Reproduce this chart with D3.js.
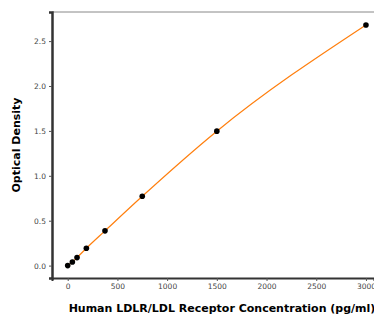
<!DOCTYPE html>
<html>
<head>
<meta charset="utf-8">
<script src="https://cdn.jsdelivr.net/npm/d3@7"></script>
<style>
  body { margin: 0; background: #fff; }
  svg { display: block; font-family: "DejaVu Sans", sans-serif; }
</style>
</head>
<body>
<div id="chart"></div>
<script>
/* DATA */
const concentration = [0, 46.875, 93.75, 187.5, 375, 750, 1500, 3000];
const density = [0.0, 0.04, 0.089, 0.193, 0.387, 0.772, 1.497, 2.68];
const xTicks = [0, 500, 1000, 1500, 2000, 2500, 3000];
const yTicks = [0.0, 0.5, 1.0, 1.5, 2.0, 2.5];

const W = 374, H = 315,
  margin = {top: 12, right: 0, bottom: 37, left: 52};

const svg = d3.select("#chart").append("svg")
  .attr("width", W).attr("height", H);

// scales
const x = d3.scaleLinear().domain([-158, 3081]).range([margin.left, W]);
const y = d3.scaleLinear().domain([-0.138, 2.824]).range([H - margin.bottom, margin.top]);

// top spine (thin, gray)
svg.append("line")
  .attr("x1", margin.left).attr("x2", W)
  .attr("y1", margin.top).attr("y2", margin.top)
  .attr("stroke", "#888").attr("stroke-width", 1);

// axes
const xAxis = svg.append("g")
  .attr("transform", `translate(0,${H - margin.bottom})`)
  .call(d3.axisBottom(x).tickValues(xTicks).tickSize(3).tickPadding(3).tickFormat(d3.format("d")));

const yAxis = svg.append("g")
  .attr("transform", `translate(${margin.left},0)`)
  .call(d3.axisLeft(y).tickValues(yTicks).tickSize(3).tickPadding(3).tickFormat(d3.format(".1f")));

[xAxis, yAxis].forEach(g => {
  g.select(".domain").attr("stroke", "#333").attr("stroke-width", 2);
  g.selectAll(".tick line").attr("stroke", "#555");
  g.selectAll(".tick text").attr("fill", "#444").attr("font-size", 7.5)
    .attr("font-family", "DejaVu Sans");
});
yAxis.select(".domain").attr("stroke-width", 2.5);

// fitted curve
const line = d3.line()
  .x((d, i) => x(concentration[i]))
  .y(d => y(d))
  .curve(d3.curveMonotoneX);

svg.append("path")
  .datum(density)
  .attr("d", line)
  .attr("fill", "none")
  .attr("stroke", "#ff7f0e")
  .attr("stroke-width", 1.2);

// points
svg.selectAll("circle.pt")
  .data(density)
  .join("circle")
  .attr("class", "pt")
  .attr("cx", (d, i) => x(concentration[i]))
  .attr("cy", d => y(d))
  .attr("r", 2.8)
  .attr("fill", "#000");

// labels
svg.append("text")
  .attr("transform", `translate(20,145) rotate(-90)`)
  .attr("text-anchor", "middle")
  .attr("font-size", 11)
  .attr("font-weight", "bold")
  .text("Optical Density");

svg.append("text")
  .attr("x", 222).attr("y", 312)
  .attr("text-anchor", "middle")
  .attr("font-size", 11)
  .attr("font-weight", "bold")
  .text("Human LDLR/LDL Receptor Concentration (pg/ml)");
</script>
</body>
</html>
